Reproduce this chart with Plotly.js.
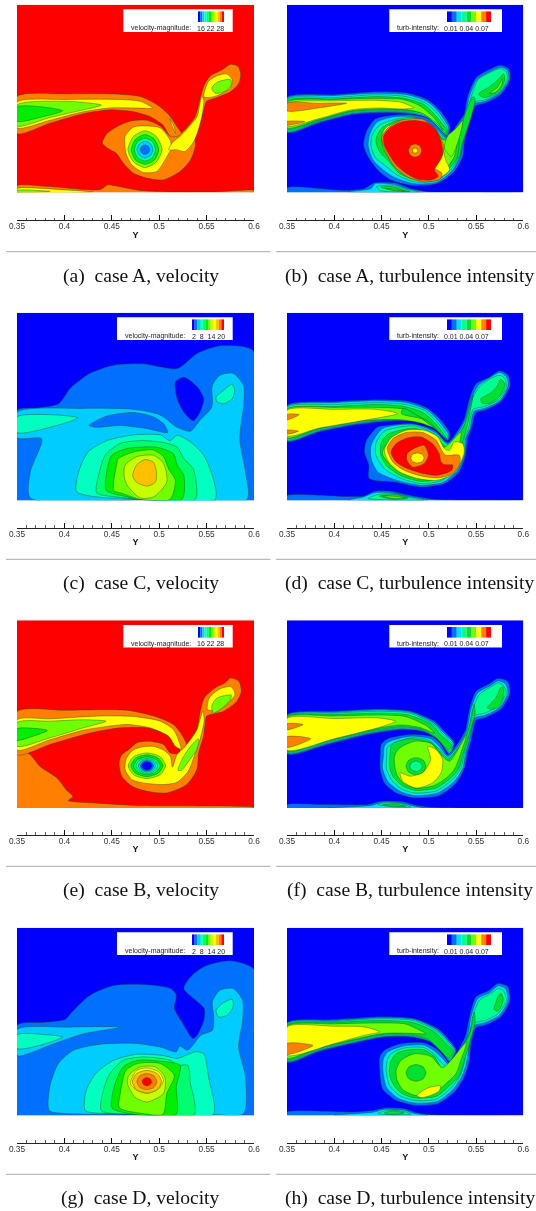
<!DOCTYPE html>
<html><head><meta charset="utf-8">
<script src="https://cdn.plot.ly/plotly-3.0.1.min.js"></script>
<style>html,body{margin:0;padding:0;background:#fff}#plot{width:536px;height:1211px;filter:blur(.3px)}</style>
</head><body><div id="plot"></div>
<script>
// Band colours (contour levels)
const velocityBands=['#0000ff','#0070ff','#00ccff','#00ffc0','#00ff70','#00ee00','#70ff00','#c8ff00','#ffff00','#ffc000','#ff8000','#ff0000'];
const turbBands=['#0000ff','#0070ff','#00e0ff','#00ff90','#00e030','#70ff00','#ffff00','#ff8000','#ff0000'];
const axisTicks=[0.35,0.4,0.45,0.5,0.55,0.6];
const captions=['(a)  case A, velocity','(b)  case A, turbulence intensity','(c)  case C, velocity','(d)  case C, turbulence intensity','(e)  case B, velocity','(f)  case B, turbulence intensity','(g)  case D, velocity','(h)  case D, turbulence intensity'];
const velFastTicks='16 22 28', velSlowTicks='2  8  14 20', turbTicks='0.01 0.04 0.07';
const domainRect=[350,0,600,0,600,198,350,198];

// Panel A, velocity. Flat lists: Y, height (thousandths), per band region
const aWake10=[350,101,402,104,448,104,480,101,497,93,510,82,519,69,524,61,517,55,510,61,504,71,490,80,473,85,448,87,420,83,385,73,350,62];
const aBody10=[519,59,529,68,538,80,543,98,547,112,554,123,566,129,575,135,583,133,586,125,584,115,575,106,561,100,550,96,547,87,543,73,538,62,538,48,533,34,522,22,504,13,487,15,473,20,462,31,455,41,445,47,440,52,445,62,455,69,469,75,487,76,501,70,512,59];
const aWake8=[350,95,402,98,455,98,480,96,493,89,473,89,448,89,420,85,385,76,350,68];
const aWake6=[350,92,402,96,439,92,420,87,385,79,350,70];
const aWake5=[350,90,378,90,398,86,378,80,350,75];
const aStem8=[510,45,515,53.5,522,59,533,71,540,80,543,94,545,101,547,97.5,545,80,540,62,535.5,52,527,43,518,45];
const aHead8=[547,101,552,117,561,123,571,125,577,119,575,110,561,102,552,100];
const aHead6=[555.5,110,561,116,575,119,576,113,568,106,559,104.5];
const aSlit8=[511,78,515,71,517.5,62,514,69];
const aVort8=[464,59,473,69,487,70,501,68,511.5,55,513,46.5,510,41,497.5,22,483,21,471,29,465,41];
const aV6=[485,65,497,59,503,45,497,32,485,26,473,32,467,45,473,59];
const aV5=[485,61,495,56,499.5,45,495,34,485,29.5,475,34,470.5,45,475,56];
const aV3=[485,57,493,53,496,45,493,37,485,33,477,37,474,45,477,53];
const aV2=[485,54,491,51,493.5,45,491,39,485,36,479,39,476.5,45,479,51];
const aV1=[485,50,488.5,48.5,490,45,488.5,41.5,485,40,481.5,41.5,480,45,481.5,48.5];
const aBot10=[350,7,385,6,420,3,438,3,446,8,453,7,480,2,526,.3,564,.7,600,2,600,0,350,0];
const aBot8=[350,4,402,2.5,430,.3,350,0];
const aBot6=[350,2,385,1,350,0];
const panelA=[[10,aWake10],[10,aBody10],[8,aWake8],[6,aWake6],[5,aWake5],[8,aVort8],[8,aStem8],[8,aHead8],[6,aHead6],[8,aSlit8],[6,aV6],[5,aV5],[3,aV3],[2,aV2],[1,aV1],[10,aBot10],[8,aBot8],[6,aBot6]];

// Panel B, turbulence
const bWake1=[350,63,383,73,418,82,450,84,478,83,499,80,511,69,520,59,522.5,69,513,85,499,97.5,478,104.5,446,106,400,103,350,100];
const bWake2=[350,99,400,102,446,104.5,477,103,498,96,511,84,521,68,519,60,510,69,498,79,478,84,450,85,418,83,383,74,350,64];
const bWake3=[350,98,400,100,446,103,476,101,497,94,510,82,520,66,518,60,509,70,498,80,478,85,450,86,418,84,383,75,350,65];
const bWake4=[350,96.5,400,98.5,446,101,475,99,496,92,508,80,519,65,518,61,510,71,498,82,478,86,450,87,418,85,383,75.5,350,66.5];
const bWake5=[350,95,400,98,446,99,473,98,491,91,504,80,515,66,508,73,494,83,478,87,450,88,418,86,383,76.5,350,68];
const bWake6=[350,93,400,96.5,446,97,471,95,484,89,471,88,446,89,418,87,383,77.5,350,70];
const bWake7a=[350,94,383,94,413,94,383,89,350,86];
const bWake7b=[350,74.6,369,74.6,350,71];
const bV1=[443,77,460,81,481,82,499,78,509.5,69,520,59,532,74.6,537.6,83,541,101,550,121,562,128.5,576,134,585,130,586,119,576,103,559,94,549,91,545,80,540,64,537.6,52,536,38,527,22,509.5,9.5,485,7,460,13,446,23.6,435.5,38,431,50,434,64];
const bV2=[445,74,462,79.5,481,80,497,75,508,67,520,57,533,73,539,83,543,101,551,119,562,126,576,132,583,129,584.5,119,575,105,559,96,547,93,543,80,537.6,64,536,52,533,38,525,23,509,11,485,9,463,16,450,25,441,34,436,48,437,60];
const bV3=[448,71,465,77,481,79,499,73.5,508,65,520,56,533.5,72,540,82,545,101,552,118.6,562,125,576,130.6,582,127,583,119,574.6,106,559,97.5,546,94.7,542,80,536.5,64,535,52,532,37.6,523.5,24,509.5,13,485,11,465.5,19,451,30.6,444,36,439,48,440,60.5];
const bV4=[450,67.6,467,76,485,75.7,502,69,518,55,527,62,536,76,532,64,532,48,529,34,520,23.6,507.5,15,486.5,13,469,20,457,33.5,448,43,444,55];
const bV5=[452.5,60.5,465,72,485,73.6,502,67.6,516.5,55,529,67.6,536,75.7,530.5,55,527,37.7,518,25,506,16.5,486.5,15,471,22,458,36,451,48];
const bStem4=[521,57,535,74,541,90,547,101,549,98,545,80,539,62,535,50,532,37,526,36,520,47];
const bStem5=[520,59.5,529,67.6,536,75.7,533.5,62,529,48,524,37.7,516.5,46.5];
const bV6=[450,59,454,67.6,471,75.7,488,75.7,506,67.6,513,52,518,34,522,23.6,511,15,495,11,478,16.5,464,27,455,41,451,52];
const bV7=[450,58,457,68,472,76.5,494,77,508,65,516,48,513,35,506,26,514,20,512,14,497,11,478,16,464,27,456,40];
const bV8=[452,58.8,458.4,67.6,470.7,74,484.8,75.7,499,73,507.7,66,513,53.5,514.7,41,510,30.6,506,23.6,510,17,502.4,13,488.3,13.7,476,20,465.5,29,457.4,41,453,50];
const bCore7=[485.5,51,490.5,49,492.5,44,490.5,39,485.5,37,480.5,39,478.5,44,480.5,49];
const bCore6=[485.5,46.5,487.5,46,488,44,487.5,42,485.5,41.5,483.5,42,483,44,483.5,46];
const bHead4=[554.5,106,562,110,573,118.6,579,125,580.5,118.6,573,106,559,100,553,103];
const bHead5=[564,104,573,111,578,120,577,113,571,106];
const bBot1=[350,5,411,2,432,4,442.5,10,464,10,481,4,499,.7,600,0,350,0];
const bBot2=[414,.4,439,4,443,9,462,8.5,478,3.5,495,.3];
const bBot3=[445,6,460,7.5,476,3,490,.3,470,.3,448,2];
const bBot4=[449,5.5,461,6,472,2.5,480,.7,465,1.5];
const bBot5=[455,4,466,3,474,1.5,465,2];
const panelB=[[1,bWake1],[2,bWake2],[3,bWake3],[4,bWake4],[5,bWake5],[6,bWake6],[7,bWake7a],[7,bWake7b],[1,bV1],[2,bV2],[3,bV3],[4,bStem4],[4,bV4],[5,bV5],[5,bStem5],[6,bV6],[7,bV7],[8,bV8],[7,bCore7],[6,bCore6],[4,bHead4],[5,bHead5],[1,bBot1],[2,bBot2],[3,bBot3],[4,bBot4],[5,bBot5]];

// Panel C, velocity
const cL1=[350,95,371,97.5,394,102,406,118,427,134,452,142.6,483,144,519,139,540,155,564,163,589,162,600,157,600,80,600,0,480,0,350,0];
const cHole0=[517,125,526,130,540,120,547,107,543,93,536,84,526,93,519,107];
const cL2=[350,93,420,97,473,96,501,90,519,77,533,73,543,84.5,555.5,98.6,556,121,564,132,578,134,589,121,589,100,585,65,591,30,592.5,.7,480,.5,364,2.5,364,30,376,65,350,66];
const cIsl1=[426,79,445,89,473,92.6,494,88,504.5,81,509,71.5,487,75.7,459,79,434,77];
const cLeft3=[350,88,392,90,414,87,392,79,350,71.5];
const cHead3=[560,109,568,116,577,122.5,579.5,116,577,107,568,102,561,104];
const cB3=[413,9,415,30,425,51,445,63,473,69,501,69,511.5,63,519,68.6,533,61.6,547,47.5,557,23,559,1,480,1,462,2.5,445,2.5];
const cB4=[434,8,436,26,443,47.5,459,60,480,63,504.5,61,519,56,526,44,536,33,538,1,480,1,459,3];
const cB5=[444,10.5,446,37,450,47.5,466,54.6,497.5,56,515,49,519,37,526,26,524,1,480,1,462,4.6];
const cB6=[452,10.5,455,37,457,44,473,51,494,53,504.5,46,510,33,517,21,511.5,1,480,1,462,7];
const cB7=[463,26,464,37,476,46,494,47.5,504.5,39,508,19,494,3.5,480,2.5,466,16];
const cB9=[472,26,476,37,485,43,494,40,497,30,496,19,487,15,476,19];
const panelC=[[1,cL1],[0,cHole0],[2,cL2],[1,cIsl1],[3,cLeft3],[3,cHead3],[3,cB3],[4,cB4],[5,cB5],[6,cB6],[7,cB7],[9,cB9]];

// Panel D, turbulence
const dWake1=[350,100,400,104,446,106,478,104.5,499,97,513,84.5,522.5,70,520,63,506,76,485,83,450,83,418,79,383,72,350,62];
const dWake2=[350,99,400,103,446,105,477,103,498,95.5,511,83,521,69,519.5,64,505,77,485,84,450,84,418,80,383,73,350,63];
const dWake3=[350,98,400,101,446,103,476,101,497,94,510,81,520,67,519,65,505,78,485,85,450,85,418,81,383,74,350,64];
const dWake4=[350,96,400,99,446,101,474,99,495,92,508,80,519,65,506,76,485,86,450,86,418,82,383,75,350,65.5];
const dWake5=[350,96,400,98,446,98,475,96,495,85,505,77,490,82,470,85,446,85,418,83,383,76,350,66];
const dStrip4=[473,97,487,90,509,74,498,84.5,471,91.5];
const dWake6=[350,95,400,96,445,96,467,91.5,435,85,400,79,383,76,350,68];
const dWake7a=[350,90.5,363,90.5,350,85];
const dWake7b=[350,74,362,73,350,70];
const dV1=[446,77.5,455,79,481,81,506,74,520,61,532,75.7,537.6,86,543,107,550,123,564,130,575,136.6,584,132,586,121,576,104,559,95,550,92.6,545,75.7,541,65,539,47.5,532,30,516.5,17.6,492,14,465.5,19,437,23,436.6,37,432,51,434,63];
const dV2=[451,75.7,485,80,508,71,520,60,533.5,75,539,86,545,107,552,121,564,129,575,135,582,130.6,584,122,575.6,105.6,559,97,548,94,543.6,75.7,539,65,537.6,47.5,530.6,31.7,515,19,492,16,467,21,446,30,439,44,439,58];
const dV3=[453,73,485,78.5,508,69,520,59,534,73.6,541,86,546,107,553.5,119.7,564,127.8,575,132,580.5,128.5,582,121,574.6,107,559,99,547,96,542,75.7,537.6,65,536,47.5,529,33.4,513.6,21,492,17.6,469.5,23.6,453,33.4,444,47.5,444,60];
const dV4=[457,70,485,76,506,68,520,56,536,75.7,541,90,547,111,545,100,540,75.7,536,61.6,534,47.5,527,35,513.6,23.6,492,20,471,25.7,455,37,449,49,450,61.6];
const dV5=[453,56,464,67,485,74,504,67,516.5,56,534,72,532,58,527,40.5,513.6,26.4,492,22,472.6,28,458,38.7,451,49];
const dV6=[453,52.8,460,65.8,476,73.9,495.4,73.9,509.5,66.9,516.5,54.6,521.8,52.8,527,61.6,535.9,59.8,537.6,51,532.3,37,523.5,26.4,507.7,21,488.3,23,469,30,457.4,40.5];
const dV7=[456,54.6,462,65,476,71.5,493.6,71.5,507.7,63.4,514.7,51,518,47.5,532.3,47.5,533,38.7,525.3,28,509.5,23.6,491.9,25.7,474,31.7,462,40.5];
const dV8=[460,51,465.5,59.8,477.8,66,491.9,66.9,504,59.8,511,49.3,513,40.5,516.5,37.7,525.3,37,524.2,31.7,509.5,26.4,495.4,28,477.8,33.4,465.5,40.5];
const dCore7=[477,49,483,54,495,58,499.6,47.5,495,38.7,483,35,477,42];
const dCore6=[488,50,493,48.5,495,44.7,493,41,488,39.4,483,41,481,44.7,483,48.5];
const dHead4=[555,107,566,113.7,573,121.4,576,127.8,580.5,123,576,111,566,103,557,102];
const dBot1=[350,5,414,4,432,4.6,442.5,9.5,460,9.5,481,5,506,1,600,0,350,0];
const dBot2=[414,0,431,3.5,442.5,8,460,8,479,4,499,.3];
const dBot3=[436,2,446,6,462,7,479,3,495.4,.3];
const dBot4=[448,4.5,466,6,478,2.5,462,1];
const dBot5=[451,4.5,467,4,475,2.5,460,2.5];
const panelD=[[1,dWake1],[2,dWake2],[3,dWake3],[4,dWake4],[5,dWake5],[4,dStrip4],[6,dWake6],[7,dWake7a],[7,dWake7b],[1,dV1],[2,dV2],[3,dV3],[4,dV4],[5,dV5],[6,dV6],[7,dV7],[8,dV8],[7,dCore7],[6,dCore6],[4,dHead4],[1,dBot1],[2,dBot2],[3,dBot3],[4,dBot4],[5,dBot5]];

// Panel E, velocity
const eOr10=[350,63,364,56,374,44,392,31.7,402,19,409,12,404,7.7,434,5,480,2.5,600,.7,600,0,350,0];
const eWake10=[350,101.7,402.5,103,466,103,497.5,96,515,88,524,77,529,66,524,56,519,68.6,504.5,79,487,84.5,459,84.5,427,79,385,67,350,56];
const eBody10=[468,61.6,477,69,489,70.4,504.5,67,511.6,58,524,58,533,70.4,540,84.5,543,100,547.5,116,559,126.7,569.6,132,575,137,584,133.8,586.6,123,582,112.6,568,102,550,96.8,548.5,89.8,546.8,75.7,541.5,58,539.7,40.5,529,24.6,508,15.8,487,17.6,471,23,460.5,33.4,457.7,47.5,460.5,56];
const eY8=[350,93,385,94,438,97,473,96.5,501,91.5,515,82.7,521,70,523,62,517,65,510,75.7,490.5,84.5,466,88,445,86,420,82,385,72,350,61];
const eL6=[350,90,385,91.5,420,93,444,91.5,420,84.5,385,74,350,65];
const eG5=[350,83.4,367,84,382,81.7,367,75.7,350,71.5];
const eV8=[465,51,471,60,480,64,493.7,65,504.5,61,511.6,54.6,514,43,518.7,56,527.6,65,540,82.7,543,93,546,102,547.5,93,543,72,537,54.6,530.6,38.7,518.7,27,504.5,24.6,483,26.4,471,30,464,40.5];
const eStemL6=[520,39.8,524,51,533,65,541.5,72.9,539.7,61.6,531,49.3,523.5,39.8];
const eHead8=[551,103.8,552.7,116,564,125.6,576,127.8,580,119.7,571,109,559,103];
const eHead6=[555.6,108,561,116,576,119,575,113.7,566.7,105.6,557,100];
const eC6=[487,58,501,54,506.7,44.4,501,35,487,31,473,35,467.3,44.4,473,54];
const eC5=[487,56,499,52.5,504,44.4,499,36.5,487,33,475,36.5,470,44.4,475,52.5];
const eC4=[487,54,497,51,501,44.4,497,38,487,35,477,38,473,44.4,477,51];
const eC3=[487,52.4,495,50,498.5,44.4,495,39,487,36.4,479,39,475.5,44.4,479,50];
const eC2=[487,51,493.5,49,496,44.4,493.5,40,487,38,480.5,40,478,44.4,480.5,49];
const eC1=[487,50,492,48,494,44.4,492,40.5,487,39,482,40.5,480,44.4,482,48];
const eC0=[487,48.8,491,47.5,492.5,44.4,491,41.3,487,40,483,41.3,481.5,44.4,483,47.5];
const panelE=[[10,eOr10],[10,eWake10],[10,eBody10],[8,eY8],[6,eL6],[5,eG5],[8,eV8],[6,eStemL6],[8,eHead8],[6,eHead6],[6,eC6],[5,eC5],[4,eC4],[3,eC3],[2,eC2],[1,eC1],[0,eC0]];

// Panel F, turbulence
const fWake1=[350,98,400,102,449.6,104.5,481,102,506,91.5,516.5,81,527,68.6,522,56,511,72,495,81,471,82.7,435.5,77.4,393,67,350,57];
const fWake2=[350,97.5,400,101,449.6,103.3,481,101,505,90,515,80,526,68,522,57.5,510,72.5,494,81,471,83.5,435.5,78.5,393,68,350,58];
const fWake3=[350,96.8,400,100,449.6,102,480,100,504,89,514,79,525,67,522,59,509,73,493,82,471,84.5,435.5,79.5,393,69,350,59];
const fWake4=[350,96.2,400,98.5,449.6,100,479,98,503,88,512,78,524,66,521,61,508,74,492,83,471,85.5,435.5,80.5,393,70,350,60];
const fWake5=[350,95.5,400,97,449.6,98,475,96.5,497,87,506,79,490,85,470,87.5,435.5,82,393,71,350,62];
const fWake6=[350,94.3,400,94.3,446,95,465,91.5,446,84.5,400,73,350,61];
const fWake7a=[350,88.7,367,88,350,82.7];
const fWake7b=[350,75,375,73,350,64];
const fV1=[449.6,67,456.6,73,481,77.4,504,75,513,67,520,56,532,70,539,82.7,543,104,550,123,564,131,573,136.6,583.4,133.8,586,121,576,104,559,95,550,92.6,545,72,541,58,537.6,42,529,26.4,511,13,485,10.6,465.5,15.8,453,26.4,448.6,40.5,448.6,54.6];
const fV2=[453,65,458,70,481,75.7,502,73,511,65,520,54.6,533.4,68.6,540.4,82,544.6,104,551.7,121.4,565,129,573.6,134,581,131,583.7,121.4,574.6,105.6,559,97.5,548,94.7,543,72,539,58,536,42,527,28,509.5,15.8,485,13,469.5,17.6,456.6,28,451,42,452,54.6];
const fV3=[456,63,460,67,481,74,500,71.5,511,62,520,52.8,534,67,541.8,81,546.4,104,553.5,119.7,565.8,127.8,573.6,132,579,129,582,121.4,572.8,107,559,100,546.8,96.8,541.8,72,537.6,58,534,42,525,30,507.7,18,485,15.8,471,20,460.4,30,455,42,455.6,54.6];
const fV4=[460,65,463.7,69,481,73,502.4,69,511,60,520,51,536,70.4,543,86,548,109,549,100,541,72,536,56,532,42,523.5,31.7,507.7,21,485,18.6,472.5,23,462,33.4,458.4,44,459,56];
const fV5=[463.7,54.6,469,63,485,70.4,502.4,68,513,56,522,49.3,540,77.4,534,58,527,40.5,516.5,30,504,23,485,21,472.5,26.4,465.5,37];
const fV6=[499,65,507.7,61.6,514.7,51,513,37,504,26.4,486.6,21,472.5,28,469.7,37,481,33.4,495,38.7,502,51];
const fCore4=[486.6,53,494,50.5,497,44,494,37.5,486.6,35,479,37.5,476,44,479,50.5];
const fCore3=[486.6,49.5,491,48,493,44,491,40,486.6,38.5,482,40,480,44,482,48];
const fHead4=[562,105.6,571,116,576,126.7,579,127.8,579,118,574.6,107,566,104];
const fBot1=[350,3.5,393,3.5,435.5,3.5,449.6,7,471,6.7,488,2.5,506,.4,600,0,350,0];
const fBot2=[393,0,439,2.5,451,6,471,5,485,1.8,495,0];
const fBot3=[446,3.5,453,5.3,471,4.2,481,1,464,1];
const fBot4=[451,3.5,462,4,476,1.8,463,1.5];
const panelF=[[1,fWake1],[2,fWake2],[3,fWake3],[4,fWake4],[5,fWake5],[6,fWake6],[7,fWake7a],[7,fWake7b],[1,fV1],[2,fV2],[3,fV3],[4,fV4],[5,fV5],[6,fV6],[4,fCore4],[3,fCore3],[4,fHead4],[1,fBot1],[2,fBot2],[3,fBot3],[4,fBot4]];

// Panel G, velocity
const gL1=[350,95,378,98,400.6,101,408,109,427,126.7,452,137,483.7,138,512,133.8,518,126.7,516,112.6,524,98.6,535.6,81,540,84.5,547,100,547.5,112.6,526,133.8,534.7,147.8,550,158,575,163,600,154,600,80,600,0,480,0,350,0];
const gWake2=[350,90.5,402,93,459,93,420,86,385,74,350,63];
const gBig2=[384,5,384.6,30,393.6,54.6,409.5,68.6,437.6,75,473,76,501,72,518,67,521.6,73,530,68.6,544,84.5,556,89.8,557.6,103.8,556,119.7,564,132,578,133.8,588,121.4,588,100,583.7,72,591,40.5,589,1.8,557,.7,473,1,402,1.8];
const gHead3=[560,111,566.7,118,577,122.5,578,114.4,571.7,105.6,562.6,103.8];
const gLeft3=[350,85,381,85,398,82.7,378,75,350,70.4];
const gB3=[422,5,423,26,433,44,452,58,477,64.4,504.5,63,519,60,538,67,547,65,552,40.5,557,.7,473,1,452,1.8];
const gB4=[439,5,441,26,448,44,462,58,483.7,61.6,512,58,519,52.8,530,52.8,533,33,537,16,537,.7,473,1];
const gB5=[450,8,453.5,33.4,462,51,477,58,497.5,57.4,522,52.8,518,30,518,1,473,1];
const gB6=[458,8,459,23,465,47.5,477,54.6,501,54.6,516,42,508,23,504,1,483,1.8];
const gB7=[466.5,33.4,467.7,42,480,51,496,51,506,40.5,504.5,23,487,14,474.6,19];
const gB8=[469.5,33.4,476.5,47.5,487,50,499.5,46,504.5,37,499.5,28,487,23,476.5,26.4];
const gB9=[487,47.5,498,44,502.4,35.5,498,27,487,23.5,476,27,471.6,35.5,476,44];
const gB10=[487,44,494.5,41.5,497.5,35.5,494.5,29.5,487,27,479.5,29.5,476.5,35.5,479.5,41.5];
const gB11=[487,40,490.5,38.5,492,35.5,490.5,32.5,487,31,483.5,32.5,482,35.5,483.5,38.5];
const panelG=[[1,gL1],[2,gWake2],[3,gLeft3],[2,gBig2],[3,gHead3],[3,gB3],[4,gB4],[5,gB5],[6,gB6],[7,gB7],[8,gB8],[9,gB9],[10,gB10],[11,gB11]];

// Panel H, turbulence
const hWake1=[350,97.5,400,101,449.6,104,485,102,509.5,91.5,522,79,529,68.6,522,56,514.7,67,502.4,77.4,481,82.7,453,82.7,418,75.7,383,67,350,56];
const hWake2=[350,97,400,100,449.6,103,485,101,508,90.5,521,78,528,68,522,57.5,513.7,67.5,501.4,78,481,83.5,453,83.5,418,76.5,383,68,350,57];
const hWake3=[350,96,400,99,449.6,102,484,100,507,89.5,520,77,527,67.5,522,59,512.7,68,500.4,79,481,84.5,453,84.5,418,77.5,383,69,350,58];
const hWake4=[350,95,400,98,449.6,100,483,98,506,88,518,76,526,67,521,60,511.7,69,499.4,80,481,85.5,453,85.5,418,78.5,383,70,350,59];
const hWake5=[350,94,400,96.5,449.6,97.5,475,96.5,490,90,497,86,481,86.5,453,86.5,418,79.5,383,71,350,60.5];
const hWake6=[350,93.3,400,94,432,93.3,448,88,432,84.5,400,75.7,350,63.4];
const hWake7=[350,75.7,377.5,73.6,350,64.4];
const hV1=[448,61.6,453,68.6,471,75.7,495,76.4,507.7,70.4,516.5,61.6,522,54.6,532.3,70.4,539,84.5,543,103.8,550,125,564,132,573,139,583.4,136,586,121.4,576,103.8,559,95,550,92.6,544.7,75.7,543,58,537.6,40.5,527,24.6,509.5,12.3,485,10.6,465.5,15.8,451,28,448,47.5];
const hV2=[452,59.8,456.7,67,472.5,73,495,74,505.7,68,514.7,59.8,522,52.8,533.4,68.6,541,82.7,544.7,103.8,551.7,123,565,130,573.5,136.6,581,133.8,583.7,121.4,574.6,105.6,559,97.5,548,94.7,543,75.7,540.4,58,535.5,42,525.3,27,509.5,14.8,485,13,467,18.3,455,30,451.4,47.5];
const hV3=[456,58,460,65,474,71,495,71.5,505,65,513,56,521.8,50,534.8,67,542.5,81,546.4,103.8,553.5,121.4,565.8,128.5,573.6,133.8,579,131.3,582,121.4,572.8,107,559,100,546.4,96.8,541,75.7,538,58,533.4,42,523.5,29,507.7,17,485,15.8,469,21,458.4,31.7,455,47.5];
const hV4=[459.5,56,465.5,65,477.8,69,495,69,506,62,514.7,49.3,537.6,75.7,544,88,548,109,549,98.6,543,75.7,537.6,58,532.3,42,521.8,31,507.7,20,485,18.3,470.7,23.6,462,33.4,458.4,44];
const hV5=[465.5,47.5,470.7,58,485,65,502.4,62,514.7,50.3,540,77.4,534,58,528.8,44,518,33.4,506,23.6,486.6,20.8,472.5,27,466.6,37];
const hCore4=[486.6,53.5,494,51,497,44.7,494,38.5,486.6,36,479,38.5,476,44.7,479,51];
const hY6=[487.3,20.8,499,28.9,512.3,31,511,25.7,502,21,491.9,18.7];
const hHead4=[569.3,111.6,572.8,124,576.3,128.5,578.8,123,576.3,114,572.8,110];
const hBot1=[350,3.5,421.5,3.5,442.6,5.3,453,7.7,474,7,488.3,2.5,509.5,.4,600,0,350,0];
const hBot2=[400,0,442.6,3.5,453,6.3,474,5.3,484.8,1.8,499,0];
const hBot3=[446,1.8,456.7,5.3,472.5,4.2,481.3,1];
const hBot4=[453,2.5,462,4.6,474,2.5,462,1];
const panelH=[[1,hWake1],[2,hWake2],[3,hWake3],[4,hWake4],[5,hWake5],[6,hWake6],[7,hWake7],[1,hV1],[2,hV2],[3,hV3],[4,hV4],[5,hV5],[4,hCore4],[6,hY6],[4,hHead4],[1,hBot1],[2,hBot2],[3,hBot3],[4,hBot4]];

// Layout in page pixels
const W=536,H=1211;
const rowTop=[4.7,312.7,620.3,927.7],rowAxis=[220.3,527.7,834.7,1142.7],rowRule=[251.7,559.3,866.3,1174.3],rowCap=[276,583.3,890.3,1198.3];
const colX=[[17,254],[287,523.3]],capX=[140.7,409.8],ruleX=[[6,270.5],[276,536]];
const panelDefs=[
 {bands:velocityBands,base:11,regions:panelA,label:'velocity-magnitude:',ticks:velFastTicks,kind:0},
 {bands:turbBands,base:0,regions:panelB,label:'turb-intensity:',ticks:turbTicks,kind:2},
 {bands:velocityBands,base:0,regions:panelC,label:'velocity-magnitude:',ticks:velSlowTicks,kind:1},
 {bands:turbBands,base:0,regions:panelD,label:'turb-intensity:',ticks:turbTicks,kind:2},
 {bands:velocityBands,base:11,regions:panelE,label:'velocity-magnitude:',ticks:velFastTicks,kind:0},
 {bands:turbBands,base:0,regions:panelF,label:'turb-intensity:',ticks:turbTicks,kind:2},
 {bands:velocityBands,base:0,regions:panelG,label:'velocity-magnitude:',ticks:velSlowTicks,kind:1},
 {bands:turbBands,base:0,regions:panelH,label:'turb-intensity:',ticks:turbTicks,kind:2}];
const legendGeom=[
 {box:[123.3,232.7],sw:[198,224],labelX:130,tickX:196},
 {box:[117,232.7],sw:[192,224],labelX:124,tickX:191},
 {box:[389.3,502],sw:[447,491],labelX:396,tickX:443}];

const px=x=>x/W, py=y=>1-y/H;
const traces=[],shapes=[],annotations=[],layout={};
const FONT='"Liberation Sans",Arial,sans-serif';
function poly(list,color,ax,ay,linear){
  const x=[],y=[];
  for(let i=0;i<list.length;i+=2){x.push(list[i]/1000);y.push(list[i+1]/1000);}
  x.push(x[0]);y.push(y[0]);
  traces.push({type:'scatter',mode:'lines',x,y,xaxis:ax,yaxis:ay,fill:'toself',fillcolor:color,hoverinfo:'skip',showlegend:false,
    line:linear?{width:0,color:color}:{color:'rgba(25,70,25,.8)',width:.5,shape:'spline',smoothing:.7}});
}
panelDefs.forEach((p,i)=>{
  const n=i+1,col=i%2,row=(i-col)/2,suffix=n===1?'':n,ax='x'+suffix,ay='y'+suffix;
  const [x0,x1]=colX[col],top=rowTop[row],bot=top+187.6;
  layout['xaxis'+suffix]={domain:[px(x0),px(x1)],range:[.35,.6],anchor:'free',position:py(rowAxis[row]),side:'bottom',
    tickvals:axisTicks,ticktext:axisTicks.map(String),ticks:'inside',ticklen:5,tickwidth:1,tickcolor:'#111',
    minor:{ticks:'inside',ticklen:2.5,tickwidth:.8,tickcolor:'#333',dtick:.01,tick0:.35,showgrid:false},
    showline:true,linecolor:'#222',linewidth:1,showgrid:false,zeroline:false,
    tickfont:{family:FONT,size:8.3,color:'#333'},ticklabelstandoff:-2,
    title:{text:'<b>Y</b>',font:{family:FONT,size:9,color:'#111'},standoff:1}};
  layout['yaxis'+suffix]={domain:[py(bot),py(top)],range:[0,.198],anchor:ax,visible:false,showgrid:false,zeroline:false};
  poly(domainRect,p.bands[p.base],ax,ay,true);
  p.regions.forEach(([lvl,list])=>poly(list,p.bands[lvl],ax,ay,false));
  // legend
  const g=legendGeom[p.kind];
  shapes.push({type:'rect',xref:'paper',yref:'paper',x0:px(g.box[0]),x1:px(g.box[1]),y0:py(top+27.2),y1:py(top+4.6),fillcolor:'#fff',line:{width:0},layer:'above'});
  const step=(g.sw[1]-g.sw[0])/p.bands.length;
  p.bands.forEach((c,k)=>shapes.push({type:'rect',xref:'paper',yref:'paper',x0:px(g.sw[0]+k*step),x1:px(g.sw[0]+(k+1)*step),y0:py(top+17.3),y1:py(top+6.7),fillcolor:c,line:{width:0},layer:'above'}));
  const txt=(t,x)=>annotations.push({text:t,xref:'paper',yref:'paper',x:px(x),y:py(top+23.4),xanchor:'left',yanchor:'middle',showarrow:false,font:{family:FONT,size:7,color:'#222'},borderpad:0});
  txt(p.label,g.labelX);txt(p.ticks,g.tickX);
  // caption
  annotations.push({text:captions[i],xref:'paper',yref:'paper',x:px(capX[col]),y:py(rowCap[row]),xanchor:'center',yanchor:'middle',showarrow:false,font:{family:'"Liberation Serif","Times New Roman",serif',size:19.6,color:'#111'}});
});
rowRule.forEach(y=>ruleX.forEach(r=>shapes.push({type:'line',xref:'paper',yref:'paper',x0:px(r[0]),x1:px(r[1]),y0:py(y),y1:py(y),line:{color:'#aaa',width:1}})));
Object.assign(layout,{width:W,height:H,margin:{l:0,r:0,t:0,b:0,pad:0},paper_bgcolor:'#fff',plot_bgcolor:'#fff',showlegend:false,shapes,annotations});
Plotly.newPlot('plot',traces,layout,{staticPlot:true,displayModeBar:false});
</script></body></html>
